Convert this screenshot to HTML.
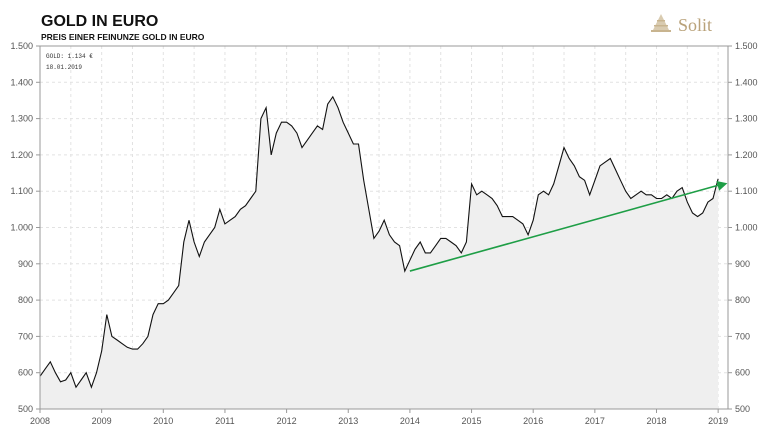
<!DOCTYPE html>
<html><head><meta charset="utf-8">
<style>
body{margin:0;background:#fff;width:768px;height:433px;overflow:hidden;font-family:"Liberation Sans",sans-serif}
</style></head><body>
<svg id="c" width="768" height="433">
<text x="41" y="26" font-size="16" font-weight="bold" fill="#111">GOLD IN EURO</text>
<text x="41" y="40" font-size="8.5" font-weight="bold" fill="#111">PREIS EINER FEINUNZE GOLD IN EURO</text>
<g>
<polygon points="652,32 670,32 661,14" fill="#d9cbb0"/>
<rect x="651" y="30" width="20" height="2" fill="#c8b48f"/>
<rect x="654" y="25" width="14" height="1.5" fill="#c8b48f"/>
<rect x="657" y="20" width="8" height="1.5" fill="#c8b48f"/>
<text x="678" y="31" font-family="Liberation Serif,serif" font-size="18" fill="#b9a27a">Solit</text>
</g>
<g id="grid"></g>
<g id="area"></g>
<g id="axes"></g>
<text x="46" y="58" font-family="Liberation Mono,monospace" font-size="6" fill="#333">GOLD: 1.134 €</text>
<text x="46" y="69" font-family="Liberation Mono,monospace" font-size="6" fill="#333">18.01.2019</text>
</svg>
<script>
const years=[2008,2009,2010,2011,2012,2013,2014,2015,2016,2017,2018,2019];
const yTicks=[500,600,700,800,900,1000,1100,1200,1300,1400,1500];
const yTickLabels=["500","600","700","800","900","1.000","1.100","1.200","1.300","1.400","1.500"];
const gold=[590,610,630,600,575,580,600,560,580,600,560,600,
660,760,700,690,680,670,665,665,680,700,760,790,
790,800,820,840,960,1020,960,920,960,980,1000,1050,
1010,1020,1030,1050,1060,1080,1100,1300,1330,1200,1260,1290,
1290,1280,1260,1220,1240,1260,1280,1270,1340,1360,1330,1290,
1260,1230,1230,1130,1050,970,990,1020,980,960,950,880,
910,940,960,930,930,950,970,970,960,950,930,960,
1120,1090,1100,1090,1080,1060,1030,1030,1030,1020,1010,980,
1020,1090,1100,1090,1120,1170,1220,1190,1170,1140,1130,1090,
1130,1170,1180,1190,1160,1130,1100,1080,1090,1100,1090,1090,
1080,1080,1090,1080,1100,1110,1070,1040,1030,1040,1070,1080,
1134];
const trendStart=[2014.0,880];
const trendEnd=[2019.15,1122];
const L=40,R=728,T=46,B=409;
const X=t=>L+(t-2008)*61.65;
const Y=v=>B-(v-500)*(B-T)/1000;
const NS="http://www.w3.org/2000/svg";
function mk(tag,attrs,parent){const e=document.createElementNS(NS,tag);for(const k in attrs)e.setAttribute(k,attrs[k]);document.getElementById(parent).appendChild(e);return e;}
for(const v of yTicks){const g=mk('line',{x1:L,x2:R,y1:Y(v),y2:Y(v),stroke:'#e2e2e2','stroke-dasharray':'3,3'},'grid');

}
for(let t=2008;t<=2019;t+=0.5){const g=mk('line',{x1:X(t),x2:X(t),y1:T,y2:B,stroke:'#e2e2e2','stroke-dasharray':'3,3'},'grid');

}
const pts=gold.map((v,i)=>[X(2008+i/12),Y(v)]);
const d=pts.map((p,i)=>(i?'L':'M')+p[0].toFixed(1)+','+p[1].toFixed(1)).join('');
const a=mk('path',{d:d+`L${pts[pts.length-1][0]},${B}L${L},${B}Z`,fill:'#efefef'},'area');


const ln=mk('path',{d:d,fill:'none',stroke:'#111','stroke-width':1.1},'area');


const x1=X(trendStart[0]),y1=Y(trendStart[1]),x2=X(trendEnd[0]),y2=Y(trendEnd[1]);
const tl=mk('line',{x1:x1,y1:y1,x2:x2-6,y2:y2+1.2,stroke:'#1e9e46','stroke-width':1.6},'area');


const ang=Math.atan2(y2-y1,x2-x1),c=Math.cos(ang),s=Math.sin(ang);
const ah=mk('polygon',{points:`${x2},${y2} ${x2-10*c+5*s},${y2-10*s-5*c} ${x2-10*c-5*s},${y2-10*s+5*c}`,fill:'#1e9e46'},'area');


const fr=mk('path',{d:`M${L},${T}H${R}V${B}H${L}Z`,fill:'none',stroke:'#999','stroke-width':1},'axes');


yTicks.forEach((v,i)=>{
const l=mk('text',{x:33,y:Y(v)+3,'text-anchor':'end','font-size':9,fill:'#555'},'axes');l.textContent=yTickLabels[i];


const r=mk('text',{x:735,y:Y(v)+3,'font-size':9,fill:'#555'},'axes');r.textContent=yTickLabels[i];


mk('line',{x1:R,x2:R+4,y1:Y(v),y2:Y(v),stroke:'#999'},'axes');
mk('line',{x1:L-4,x2:L,y1:Y(v),y2:Y(v),stroke:'#999'},'axes');
});
years.forEach(yr=>{
const t=mk('text',{x:X(yr),y:424,'text-anchor':'middle','font-size':9,fill:'#555'},'axes');t.textContent=yr;


mk('line',{x1:X(yr),x2:X(yr),y1:B,y2:B+4,stroke:'#999'},'axes');
});
</script>
</body></html>
